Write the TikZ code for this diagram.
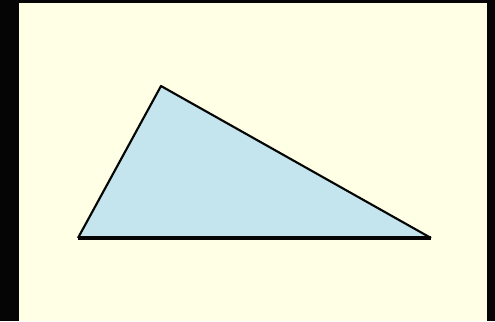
\documentclass[tikz,border=0pt]{standalone}
\usepackage{xcolor}
\usepackage{tikz}
\definecolor{paper}{RGB}{255, 255, 230}
\definecolor{frame}{RGB}{5, 5, 5}
\definecolor{trifill}{RGB}{197, 229, 238}
\begin{document}
\begin{tikzpicture}[x=0.75pt, y=-0.75pt]
    %% frame and background
    \useasboundingbox (0,0) rectangle (495,321);
    \fill[frame] (0,0) rectangle (495,321);
    \fill[paper] (19,3) rectangle (487,321);

    %% triangle corners
    \coordinate (apex) at (161,86);
    \coordinate (left) at (78,238);
    \coordinate (right) at (431,238);

    %% triangle
    \fill[trifill] (left) -- (apex) -- (right) -- cycle;
    \draw[frame, line width=1.6pt, line join=round] (left) -- (apex) -- (right);
    \draw[frame, line width=2.4pt] (left) -- (right);
  \end{tikzpicture}
\end{document}
